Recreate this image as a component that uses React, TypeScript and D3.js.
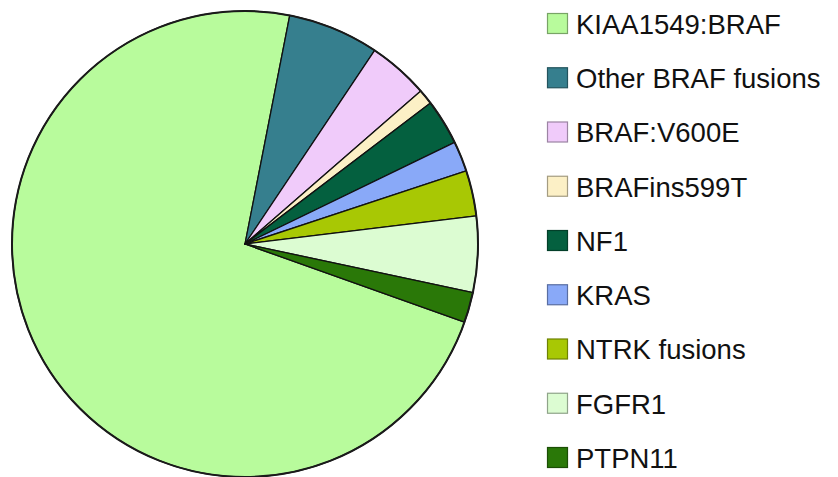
import React from "react";
import * as d3 from "d3";

const categories = [
  "KIAA1549:BRAF",
  "Other BRAF fusions",
  "BRAF:V600E",
  "BRAFins599T",
  "NF1",
  "KRAS",
  "NTRK fusions",
  "FGFR1",
  "PTPN11",
];
const counts = [69, 6, 4, 1, 3, 2, 3, 5, 2];
const colors = [
  "#b8fb9c",
  "#367f8e",
  "#f0cbfa",
  "#fcf0c6",
  "#04603f",
  "#89a9f8",
  "#a8c804",
  "#dcfcd2",
  "#2a7808",
];

const W = 838;
const H = 477;
const cx = 245;
const cy = 244;
const R = 233;
const startDeg = 109.6;

export default function App() {
  const pie = d3
    .pie<number>()
    .sort(null)
    .value((d) => d)
    .startAngle((startDeg * Math.PI) / 180)
    .endAngle((startDeg * Math.PI) / 180 + 2 * Math.PI);
  const arcs = pie(counts);
  const arc = d3.arc<d3.PieArcDatum<number>>().innerRadius(0).outerRadius(R);

  const legendY = d3
    .scalePoint<string>()
    .domain(categories)
    .range([24, 458]);

  return (
    <svg
      width={W}
      height={H}
      style={{ position: "absolute", left: 0, top: 0, background: "#fff" }}
      fontFamily="'Liberation Sans', Arial, sans-serif"
    >
      <g transform={`translate(${cx},${cy})`}>
        {arcs.map((a, i) => (
          <path
            key={i}
            d={arc(a) || ""}
            fill={colors[i]}
            stroke="#111"
            strokeWidth={1.3}
            strokeLinejoin="round"
          />
        ))}
        <circle r={R} fill="none" stroke="#1a1a1a" strokeWidth={2} />
      </g>
      {categories.map((c, i) => {
        const y = legendY(c)!;
        const col = d3.color(colors[i])!.darker(1.2).formatHex();
        return (
          <g key={c}>
            <rect
              x={547.5}
              y={y - 10.5}
              width={20}
              height={20}
              fill={colors[i]}
              stroke={col}
              strokeWidth={1.2}
            />
            <text
              x={576}
              y={y}
              dy="0.36em"
              fontSize={27.5}
              fill="#111"
            >
              {c}
            </text>
          </g>
        );
      })}
    </svg>
  );
}
